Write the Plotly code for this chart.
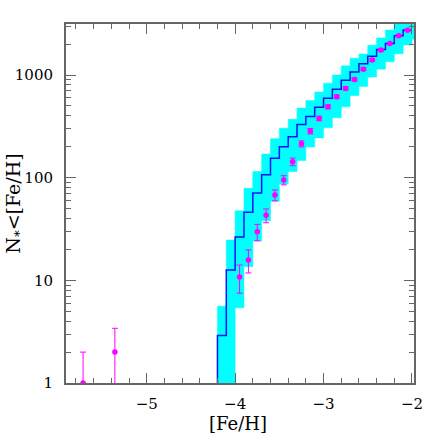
import plotly.graph_objects as go

# ---------------- data ----------------
bin_left = [-4.2, -4.1, -4.0, -3.9, -3.8, -3.7, -3.6, -3.5, -3.4, -3.3, -3.2,
            -3.1, -3.0, -2.9, -2.8, -2.7, -2.6, -2.5, -2.4, -2.3, -2.2, -2.1]
bin_width = 0.1
box_span = 0.2

model_counts = [2.9, 12.6, 26.5, 46, 71, 107, 155, 200, 250, 330, 395,
                485, 595, 725, 890, 1070, 1290, 1520, 1770, 2030, 2410, 2740]
band_upper = [5.6, 24.7, 47.6, 78.7, 115, 170, 240, 303, 370, 477, 565,
              685, 833, 1000, 1228, 1460, 1600, 1950, 2300, 2740, 3300, 3700]
band_lower = [0.3, 5.4, 13.6, 24.1, 38, 59, 87, 115, 147, 199, 244,
              306, 384, 490, 631, 775, 956, 1140, 1343, 1612, 1960, 2230]

obs_feh = [-5.72, -5.36, -3.95, -3.85, -3.75, -3.65, -3.55, -3.45, -3.35, -3.25,
           -3.15, -3.05, -2.95, -2.85, -2.75, -2.65, -2.55, -2.45, -2.35, -2.25,
           -2.15, -2.05]
obs_counts = [1, 2, 10.8, 15.8, 29.7, 43, 67.7, 94.8, 143, 214,
              284, 378, 490, 614, 741, 906, 1141, 1397, 1748, 2031,
              2409, 2735]
obs_err = [1.0, 1.41, 3.3, 4.0, 5.4, 6.6, 8.2, 9.7, 12.0, 14.6,
           16.9, 19.4, 22.1, 24.8, 27.2, 30.1, 33.8, 37.4, 41.8, 45.1,
           49.1, 52.3]

x_ticks = [-5, -4, -3, -2]
y_ticks = [1, 10, 100, 1000]
y_minor = [2, 3, 4, 5, 6, 7, 8, 9, 20, 30, 40, 50, 60, 70, 80, 90,
           200, 300, 400, 500, 600, 700, 800, 900, 2000, 3000]

x_range = [-5.913, -1.977]
y_range_log = [0, 3.497]
y_floor = 10 ** y_range_log[0]

# ---------------- figure ----------------
fig = go.Figure()

# cyan boxes
bx, by = [], []
for xl, lo, hi in zip(bin_left, band_lower, band_upper):
    xr = xl + box_span
    bx += [xl, xr, xr, xl, xl, None]
    by += [lo, lo, hi, hi, lo, None]
fig.add_trace(go.Scatter(x=bx, y=by, mode="lines", fill="toself",
                         fillcolor="#00FFFF", line=dict(color="#00FFFF", width=0.5),
                         hoverinfo="skip", showlegend=False))

# step line
sx = [bin_left[0]] + bin_left + [bin_left[-1] + bin_width]
sy = [y_floor] + model_counts + [model_counts[-1]]
fig.add_trace(go.Scatter(x=sx, y=sy, mode="lines", line_shape="hv",
                         line=dict(color="#1010FF", width=1.5), showlegend=False))

# observed points
fig.add_trace(go.Scatter(x=obs_feh, y=obs_counts, mode="markers",
                         marker=dict(color="#FF00FF", size=5.5),
                         error_y=dict(type="data", array=obs_err, color="#FF00FF",
                                      thickness=1, width=3),
                         showlegend=False))

axis_col = "#666666"
font_family = "DejaVu Serif"

fig.update_xaxes(range=x_range, tickvals=x_ticks,
                 ticktext=["\u22125", "\u22124", "\u22123", "\u22122"],
                 ticks="inside", ticklen=10, tickwidth=1.2, tickcolor=axis_col,
                 showline=True, linecolor=axis_col, linewidth=2, mirror="allticks",
                 showgrid=False, zeroline=False,
                 minor=dict(tick0=-6, dtick=0.2, ticks="inside", ticklen=5,
                            tickwidth=1.2, tickcolor=axis_col, showgrid=False),
                 tickfont=dict(family=font_family, size=15, color="black"),
                 ticklabelstandoff=6)
fig.update_yaxes(type="log", range=y_range_log, tickvals=y_ticks,
                 ticktext=["1", "10", "100", "1000"],
                 ticks="inside", ticklen=10, tickwidth=1.2, tickcolor=axis_col,
                 showline=True, linecolor=axis_col, linewidth=2, mirror="allticks",
                 showgrid=False, zeroline=False,
                 minor=dict(tickmode="array", tickvals=y_minor, ticks="inside",
                            ticklen=5, tickwidth=1.2, tickcolor=axis_col, showgrid=False),
                 tickfont=dict(family=font_family, size=15, color="black"),
                 ticklabelstandoff=8)

fig.add_annotation(text="[Fe/H]", xref="paper", yref="paper", x=0.494, y=-0.113,
                   xanchor="center", yanchor="middle", showarrow=False,
                   font=dict(family=font_family, size=18, color="black"))
fig.add_annotation(text="N<sub>*</sub>&lt;[Fe/H]", xref="paper", yref="paper",
                   x=-0.149, y=0.5, xanchor="center", yanchor="middle",
                   textangle=-90, showarrow=False,
                   font=dict(family=font_family, size=19, color="black"))

fig.update_layout(width=436, height=436, margin=dict(l=66, r=22, t=24, b=53),
                  paper_bgcolor="white", plot_bgcolor="white")

fig.write_html("out.html", config={"displayModeBar": False},
               post_script="document.body.style.margin='0';document.body.style.overflow='hidden';")
